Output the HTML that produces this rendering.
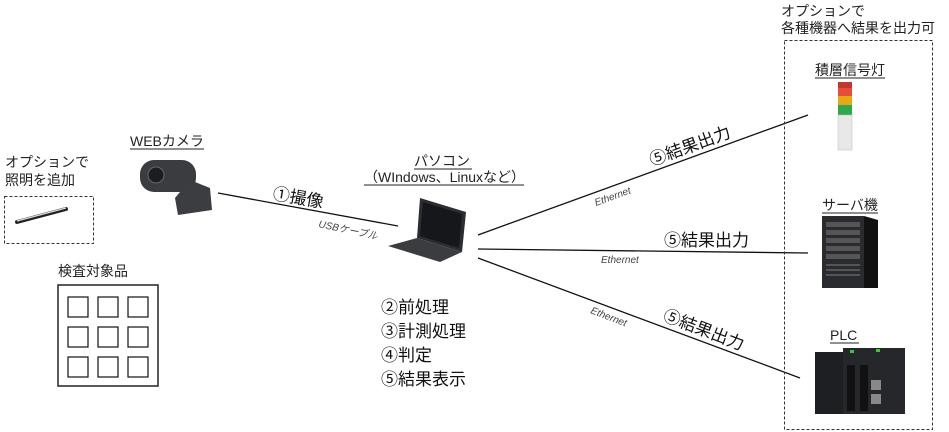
<!DOCTYPE html>
<html><head><meta charset="utf-8"><style>
html,body{margin:0;padding:0;background:#fff;}
svg{display:block;font-family:"Liberation Sans","Noto Sans CJK JP",sans-serif;}
</style></head><body>
<svg width="949" height="432" viewBox="0 0 949 432" xmlns="http://www.w3.org/2000/svg">
<rect width="949" height="432" fill="#fff"/>
<g stroke="#111" stroke-width="1.3" fill="none">
<line x1="218" y1="193" x2="398" y2="226"/>
<line x1="478" y1="235" x2="808" y2="115"/>
<line x1="478" y1="249" x2="808" y2="253"/>
<line x1="478" y1="258" x2="800" y2="378"/>
</g>
<rect x="784.5" y="40.5" width="148" height="389" fill="none" stroke="#333" stroke-dasharray="3,2"/>
<rect x="4.5" y="196.5" width="89" height="47" fill="none" stroke="#333" stroke-dasharray="3,2"/>
<line x1="17" y1="222" x2="66" y2="209" stroke="#222" stroke-width="4" stroke-linecap="round"/>
<line x1="17" y1="221" x2="66" y2="208" stroke="#ddd" stroke-width="1.2"/>
<rect x="58" y="285" width="100" height="101" fill="#fff" stroke="#222" stroke-width="1.5"/>
<g fill="none" stroke="#111" stroke-width="1.2">
<rect x="68" y="297" width="20" height="20"/><rect x="98" y="297" width="20" height="20"/><rect x="128" y="297" width="20" height="20"/>
<rect x="68" y="327" width="20" height="20"/><rect x="98" y="327" width="20" height="20"/><rect x="128" y="327" width="20" height="20"/>
<rect x="68" y="357" width="20" height="20"/><rect x="98" y="357" width="20" height="20"/><rect x="128" y="357" width="20" height="20"/>
</g>
<rect x="140" y="160" width="56" height="32" rx="14" fill="#3a3c40"/>
<circle cx="156" cy="175" r="8" fill="#1c1d20" stroke="#666" stroke-width="1"/>
<path d="M190 180 L210 188 L212 210 L178 215 L175 198 Z" fill="#3b3d41"/>
<path d="M420 198 L466 212 L462 252 L417 238 Z" fill="#2b2d31"/>
<path d="M423 202 L462 214 L459 248 L420 236 Z" fill="#15171b"/>
<path d="M417 238 L462 252 L440 262 L388 246 Z" fill="#3a3c40"/>
<rect x="838" y="82" width="14" height="6" fill="#c0392b"/>
<rect x="838" y="88" width="14" height="8" fill="#e74c3c"/>
<rect x="838" y="96" width="14" height="9" fill="#e6a817"/>
<rect x="838" y="105" width="14" height="10" fill="#2ea84a"/>
<rect x="838" y="115" width="14" height="35" fill="#e8e8e8" stroke="#bbb" stroke-width="0.5"/>
<rect x="822" y="216" width="42" height="72" fill="#2a2b2e"/>
<path d="M864 216 L878 220 L878 288 L864 288 Z" fill="#111"/>
<g fill="#555"><rect x="826" y="222" width="34" height="5"/><rect x="826" y="230" width="34" height="5"/><rect x="826" y="238" width="34" height="5"/><rect x="826" y="246" width="34" height="5"/><rect x="826" y="254" width="34" height="5"/><rect x="826" y="264" width="34" height="2"/><rect x="826" y="269" width="34" height="2"/><rect x="826" y="274" width="34" height="2"/></g>
<rect x="815" y="352" width="28" height="62" fill="#1e1f22"/>
<rect x="843" y="348" width="62" height="66" fill="#26272a"/>
<rect x="847" y="365" width="8" height="46" fill="#111"/><rect x="860" y="365" width="8" height="46" fill="#111"/>
<rect x="871" y="380" width="10" height="10" fill="#888"/><rect x="871" y="394" width="10" height="10" fill="#888"/>
<rect x="850" y="350" width="4" height="3" fill="#3c3"/><rect x="876" y="349" width="4" height="3" fill="#3c3"/>
<g fill="#222" font-size="14">
<text x="5" y="167">オプションで</text>
<text x="5" y="185">照明を追加</text>
<text x="130" y="146">WEBカメラ</text>
<line x1="130" y1="149" x2="204" y2="149" stroke="#222"/>
<text x="58" y="276">検査対象品</text>
<text x="414" y="166">パソコン</text>
<line x1="414" y1="169" x2="472" y2="169" stroke="#222"/>
<text x="364" y="182">（WIndows、Linuxなど）</text>
<line x1="364" y1="185" x2="524" y2="185" stroke="#222"/>
<text x="781" y="16">オプションで</text>
<text x="781" y="33">各種機器へ結果を出力可</text>
<text x="815" y="75">積層信号灯</text>
<line x1="815" y1="78" x2="885" y2="78" stroke="#222"/>
<text x="822" y="210">サーバ機</text>
<line x1="822" y1="213" x2="878" y2="213" stroke="#222"/>
<text x="830" y="340">PLC</text>
<line x1="830" y1="343" x2="859" y2="343" stroke="#222"/>
</g>
<g fill="#111" font-size="17">
<text x="272" y="199" transform="rotate(10 272 199)">①撮像</text>
<text x="381" y="313">②前処理</text>
<text x="381" y="337">③計測処理</text>
<text x="381" y="361">④判定</text>
<text x="381" y="385">⑤結果表示</text>
<text x="652" y="166" transform="rotate(-20 652 166)">⑤結果出力</text>
<text x="664" y="246">⑤結果出力</text>
<text x="662" y="320" transform="rotate(21 662 320)">⑤結果出力</text>
</g>
<g fill="#444" font-size="10" font-style="italic">
<text x="318" y="227" transform="rotate(12 318 227)">USBケーブル</text>
<text x="596" y="206" transform="rotate(-20 596 206)">Ethernet</text>
<text x="601" y="263">Ethernet</text>
<text x="590" y="313" transform="rotate(21 590 313)">Ethernet</text>
</g>
</svg>
</body></html>
